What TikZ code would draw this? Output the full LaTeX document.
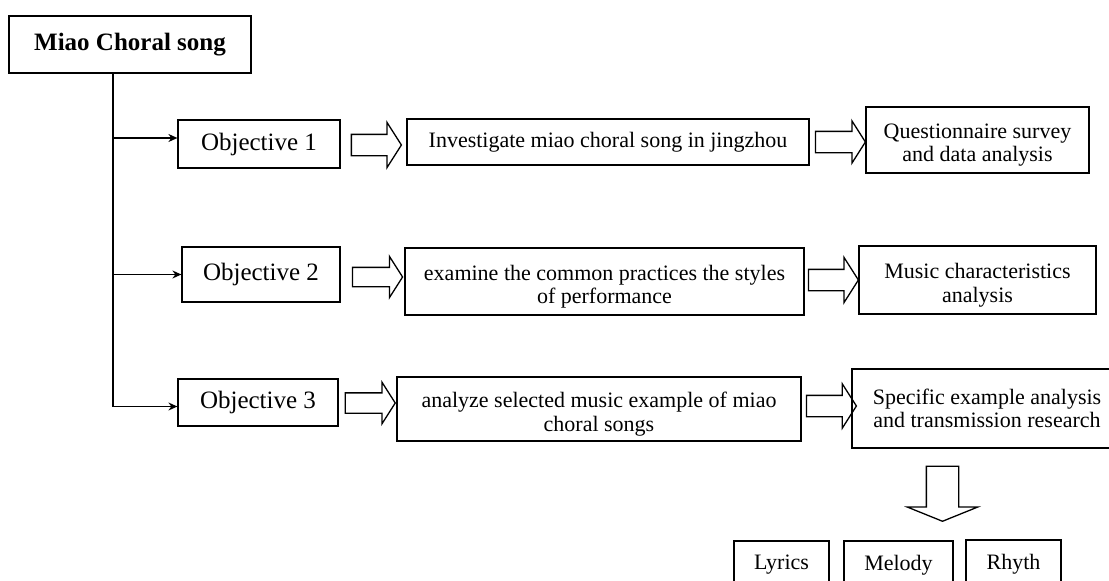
\documentclass[tikz,border=0pt]{standalone}
\usepackage{fontspec}
\setmainfont{Liberation Serif}
\usetikzlibrary{shapes.arrows,arrows.meta}
\begin{document}
\begin{tikzpicture}[x=1pt,y=-1pt,>={Stealth[length=9pt,width=8pt]},
  box/.style={draw,line width=1.2pt,align=center,inner sep=0pt,font=\fontsize{22}{23.5}\selectfont},
  objbox/.style={box,font=\fontsize{25}{27}\selectfont},
  lowtext/.style={label={[align=center,font=\fontsize{22}{23.5}\selectfont,yshift=-5pt]center:#1}},
  fat/.style={single arrow,draw,line width=1.3pt,inner xsep=0pt,inner ysep=10pt,
    single arrow head extend=12pt,single arrow tip angle=115,minimum height=50pt}]
\useasboundingbox (0,0) rectangle (1109,581);
\node[box,font=\bfseries\fontsize{25}{27}\selectfont,minimum width=242pt,minimum height=57pt] (title) at (130,44.5) {Miao Choral song};
% row 1
\node[objbox,minimum width=162pt,minimum height=48pt] (obj1) at (259,144) {Objective 1};
\node[box,minimum width=402pt,minimum height=46pt] (inv) at (608,142) {Investigate miao choral song in jingzhou};
\node[box,minimum width=223pt,minimum height=66pt,lowtext={Questionnaire survey\\and data analysis}] (quest) at (977.5,140) {};
\node[fat] (f11) at (373,145) {};
\node[fat,inner ysep=10pt,single arrow head extend=10.5pt] (f12) at (837,142) {};
% row 2
\node[objbox,minimum width=158pt,minimum height=55pt] (obj2) at (261,274.5) {Objective 2};
\node[box,minimum width=399pt,minimum height=67pt,lowtext={examine the common practices the styles\\of performance}] (exam) at (604.5,281.5) {};
\node[box,minimum width=237pt,minimum height=68pt,lowtext={Music characteristics\\analysis}] (music) at (977.5,280) {};
\node[fat,inner ysep=9pt,single arrow head extend=11pt] (f21) at (374.5,277) {};
\node[fat] (f22) at (830,280) {};
% row 3
\node[objbox,minimum width=160pt,minimum height=47pt] (obj3) at (258,402.5) {Objective 3};
\node[box,minimum width=404pt,minimum height=64pt,lowtext={analyze selected music example of miao\\choral songs}] (anal) at (599,409) {};
\node[box,minimum width=270pt,minimum height=79pt] (spec) at (987,408.5) {Specific example analysis\\and transmission research};
\node[fat,inner ysep=9.5pt,single arrow head extend=10.5pt] (f31) at (367,403) {};
\node[fat,inner ysep=10pt,single arrow head extend=11.5pt] (f32) at (828,406) {};
% below
\node[fat,shape border rotate=270,inner xsep=15.5pt,inner ysep=0pt,single arrow head extend=19pt,
  single arrow tip angle=136,minimum height=55pt] (fdown) at (942.5,490.5) {};
\node[box,minimum width=95pt,minimum height=48pt] (lyr) at (781.5,565) {Lyrics};
\node[box,minimum width=109pt,minimum height=48pt] (mel) at (898.5,565) {Melody};
\node[box,minimum width=95pt,minimum height=48pt] (rhy) at (1013.5,564) {Rhyth};
% tree lines
\coordinate (trunk) at (113,73);
\draw[->,line width=1.3pt] (title.south -| trunk) |- ([yshift=-4pt]obj3.west);
\draw[->,line width=1.3pt] ([yshift=6pt]obj1.west -| trunk) -- ([yshift=6pt]obj1.west);
\draw[->,line width=1.3pt] (obj2.west -| trunk) -- (obj2.west);
\end{tikzpicture}
\end{document}
